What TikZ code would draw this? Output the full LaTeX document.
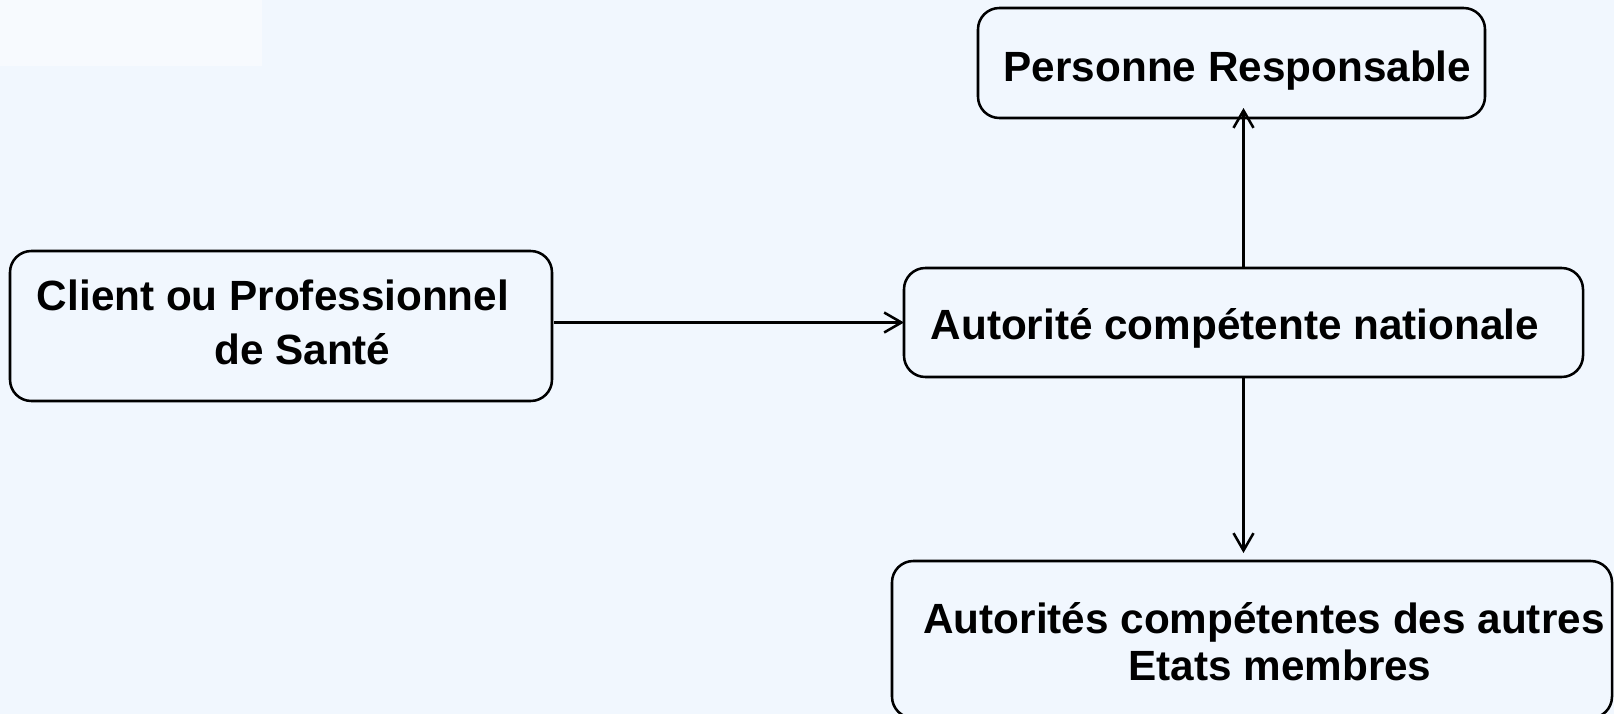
\documentclass[tikz,border=0pt]{standalone}
\usepackage{fontspec}
\setmainfont{Liberation Sans}
\usetikzlibrary{positioning,calc,arrows.meta}
\definecolor{fondbleu}{RGB}{241,247,254}

\begin{document}
\begin{tikzpicture}[x=0.75pt,y=-0.75pt,
    boite/.style={draw,line width=1.9pt,rounded corners=16pt,inner sep=0pt,outer sep=0pt},
    texte/.style={inner sep=0pt,align=center,font=\fontsize{31.7}{35.3}\selectfont\bfseries},
    fleche/.style={line width=1.9pt,-{Straight Barb[length=13pt,width=15pt,line width=1.9pt]}}]
            \fill[fondbleu] (0,0) rectangle (1614,714);
            \useasboundingbox (0,0) rectangle (1614,714);
            \fill[white,opacity=.45] (0,0) rectangle (262,66);

            % cadres
            \node[boite,minimum width=507*0.75pt,minimum height=110*0.75pt] (personne) at (1231.5,63) {};
            \node[boite,minimum width=542*0.75pt,minimum height=150*0.75pt] (client) at (281,326) {};
            \node[boite,minimum width=679*0.75pt,minimum height=109*0.75pt] (nationale) at (1243.5,322.5) {};
            \node[boite,minimum width=720*0.75pt,minimum height=157*0.75pt] (autres) at (1252,639.5) {};

            % textes
            \node[texte] (t-personne) at ([xshift=4.5pt,yshift=-6pt]personne.center) {Personne Responsable};
            \node[texte,align=left] (t-client) at ([xshift=-6pt,yshift=2.6pt]client.center) {Client ou Professionnel\\[5.2pt]\hspace*{133pt}de Santé};
            \node[texte] (t-nationale) at ([xshift=-6.5pt,yshift=-4.5pt]nationale.center) {Autorité compétente nationale};
            \node[texte] (t-autres) at ([xshift=9pt,yshift=-1.5pt]autres.center) {Autorités compétentes des autres\\\hspace*{24pt}Etats membres};

            \draw[fleche] ([xshift=1.5pt]nationale.west -| client.east) -- (nationale.west);
            \draw[fleche] (nationale.north) -- ([yshift=7.5pt]nationale.north |- personne.south);
            \draw[fleche] (nationale.south) -- ([yshift=6pt]nationale.south |- autres.north);
        \end{tikzpicture}
\end{document}
